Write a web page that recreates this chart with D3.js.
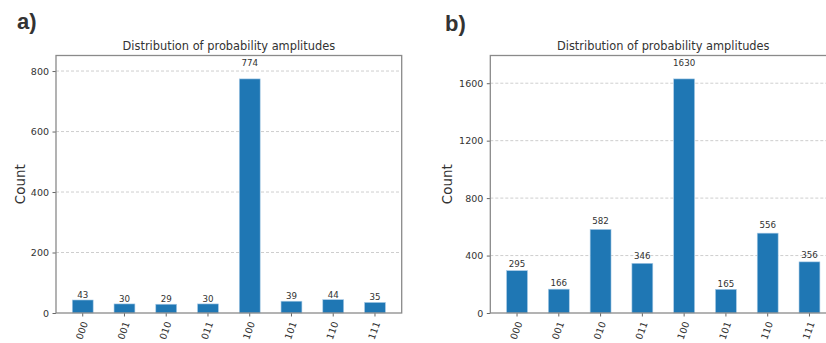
<!DOCTYPE html>
<html>
<head>
<meta charset="utf-8">
<script src="https://cdn.jsdelivr.net/npm/d3@7"></script>
<style>
  body { margin: 0; background: #fff; }
  svg { display: block; }
  text { font-family: "DejaVu Sans", sans-serif; fill: #333; }
</style>
</head>
<body>
<script>
// datos
var estados = ["000", "001", "010", "011", "100", "101", "110", "111"]
var cuentasA = [43, 30, 29, 30, 774, 39, 44, 35]
var cuentasB = [295, 166, 582, 346, 1630, 165, 556, 356]
var ticksA = [0, 200, 400, 600, 800]
var ticksB = [0, 400, 800, 1200, 1600]
var titulo = "Distribution of probability amplitudes"

var width = 826
var height = 343

var svg = d3.select("body")
  .append("svg")
  .attr("width", width)
  .attr("height", height)

function pintarPanel(letra, datos, ticks, caja, posLetra) {
  var g = svg.append("g")

  var escalaX = d3.scaleBand()
    .domain(estados)
    .range([caja.left, caja.right])
    .paddingInner(0.5)
    .paddingOuter(0.39)

  var escalaY = d3.scaleLinear()
    .domain([0, d3.max(datos) * 1.1])  // como qiskit: 1.1 * max
    .range([caja.bottom, caja.top])

  // lineas de rejilla
  g.selectAll(".grid")
    .data(ticks.filter(d => d > 0))
    .enter()
    .append("line")
    .attr("x1", caja.left)
    .attr("x2", caja.right)
    .attr("y1", d => escalaY(d))
    .attr("y2", d => escalaY(d))
    .attr("stroke", "#c8c8c8")
    .attr("stroke-width", 0.9)
    .attr("stroke-dasharray", "3,2")

  // barras
  g.selectAll("rect.barra")
    .data(datos)
    .enter()
    .append("rect")
    .attr("class", "barra")
    .attr("x", (d, i) => escalaX(estados[i]))
    .attr("width", escalaX.bandwidth())
    .attr("y", d => escalaY(d))
    .attr("height", d => caja.bottom - escalaY(d))
    .attr("fill", "#1f77b4")
    .attr("stroke", "#a9cbe6")
    .attr("stroke-width", 0.6)

  // etiquetas de valor (1.05 * altura, va=bottom)
  g.selectAll("text.valor")
    .data(datos)
    .enter()
    .append("text")
    .attr("class", "valor")
    .attr("x", (d, i) => escalaX(estados[i]) + escalaX.bandwidth() / 2)
    .attr("y", d => escalaY(d * 1.05) - 1.5)
    .attr("text-anchor", "middle")
    .style("font-size", "8.7px")
    .text(d => d)

  // eje Y
  var ejeY = d3.axisLeft(escalaY)
    .tickValues(ticks)
    .tickFormat(d3.format("d"))
    .tickSize(3.5)
    .tickPadding(3.5)
  var gY = g.append("g")
    .attr("transform", "translate(" + caja.left + ",0)")
    .call(ejeY)
  gY.select(".domain").remove()
  gY.selectAll("line").attr("stroke", "#555").attr("stroke-width", 0.9)
  gY.selectAll("text").style("font-size", "9.5px").attr("fill", "#333")
    .style("font-family", "DejaVu Sans")

  // eje X
  var ejeX = d3.axisBottom(escalaX)
    .tickSize(3.5)
    .tickFormat("")
  var gX = g.append("g")
    .attr("transform", "translate(0," + caja.bottom + ")")
    .call(ejeX)
  gX.select(".domain").remove()
  gX.selectAll("line").attr("stroke", "#555").attr("stroke-width", 0.9)

  // etiquetas X rotadas 70 grados
  g.selectAll("g.etqX")
    .data(estados)
    .enter()
    .append("g")
    .attr("class", "etqX")
    .attr("transform", d => "translate(" + (escalaX(d) + escalaX.bandwidth() / 2 - 0.8) + "," + (caja.bottom + 17.5) + ")")
    .append("text")
    .attr("transform", "rotate(-70)")
    .attr("text-anchor", "middle")
    .attr("dy", "0.35em")
    .style("font-size", "9.5px")
    .text(d => d)

  // marco
  g.append("rect")
    .attr("x", caja.left)
    .attr("y", caja.top)
    .attr("width", caja.right - caja.left)
    .attr("height", caja.bottom - caja.top)
    .attr("fill", "none")
    .attr("stroke", "#8a8a8a")
    .attr("stroke-width", 1.3)

  // titulo
  g.append("text")
    .attr("x", (caja.left + caja.right) / 2)
    .attr("y", caja.top - 5.5)
    .attr("text-anchor", "middle")
    .style("font-size", "11.4px")
    .text(titulo)

  // etiqueta eje Y
  g.append("text")
    .attr("transform", "translate(" + caja.yLabelX + "," + ((caja.top + caja.bottom) / 2) + ") rotate(-90)")
    .attr("text-anchor", "middle")
    .style("font-size", "13.4px")
    .attr("fill", "#222")
    .text("Count")

  // letra del panel
  svg.append("text")
    .attr("x", posLetra[0])
    .attr("y", posLetra[1])
    .style("font-family", "Liberation Sans, Arial, sans-serif")
    .style("font-weight", "bold")
    .style("font-size", "22px")
    .attr("fill", "#111")
    .text(letra)
}

pintarPanel("a)", cuentasA, ticksA,
  { left: 56, right: 401.7, top: 55.5, bottom: 313, yLabelX: 24.5 }, [17, 29])
pintarPanel("b)", cuentasB, ticksB,
  { left: 490.3, right: 836.2, top: 55.5, bottom: 313, yLabelX: 452 }, [445, 31])
</script>
</body>
</html>
